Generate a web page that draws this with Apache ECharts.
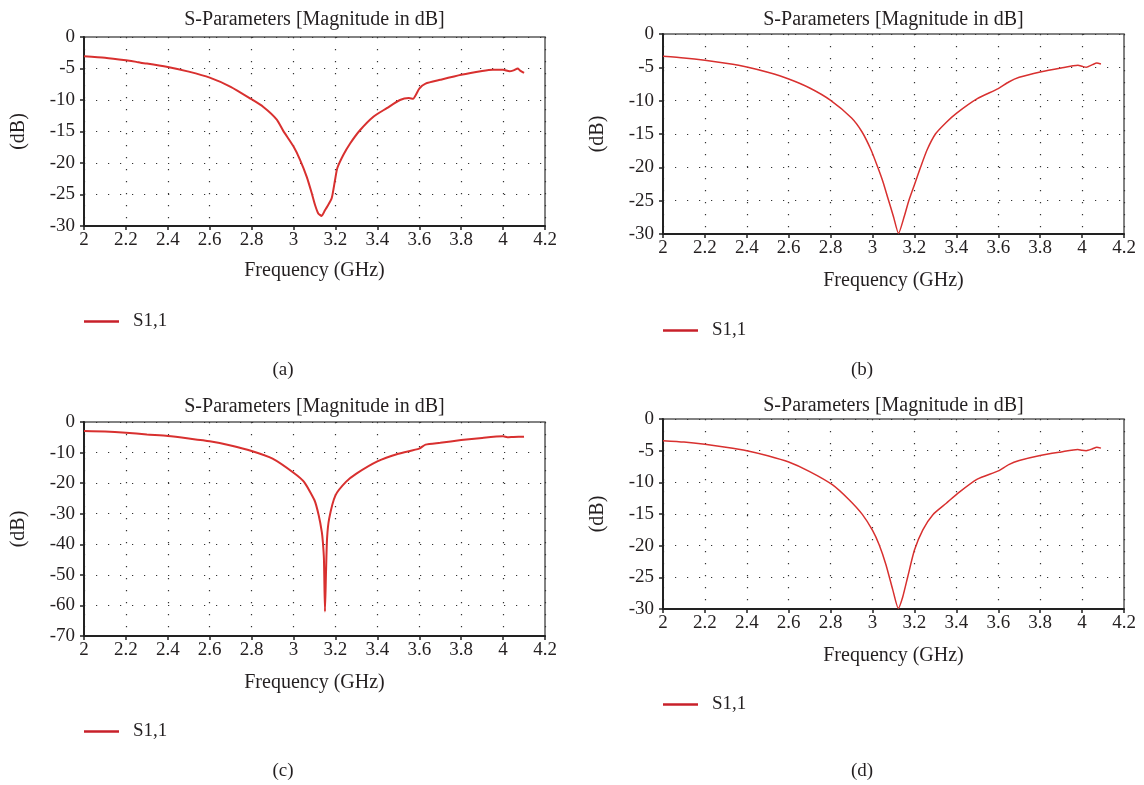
<!DOCTYPE html>
<html>
<head>
<meta charset="utf-8">
<title>S-Parameters</title>
<script src="https://cdn.jsdelivr.net/npm/echarts@6/dist/echarts.min.js"></script>
<style>
  html, body { margin: 0; padding: 0; background: #fff; }
  #chart { width: 1144px; height: 785px; }
</style>
</head>
<body>
<div id="chart"></div>
<script>
// x tick values shared by every panel (GHz)
const freqTicks = [2, 2.2, 2.4, 2.6, 2.8, 3, 3.2, 3.4, 3.6, 3.8, 4, 4.2];

// (a)
const freqA = [2.0, 2.1, 2.2, 2.25, 2.27, 2.3, 2.4, 2.5, 2.6, 2.7, 2.792, 2.856, 2.92, 2.951, 3.0, 3.031, 3.063, 3.087, 3.103, 3.118, 3.134, 3.15, 3.161, 3.182, 3.198, 3.209, 3.238, 3.27, 3.317, 3.381, 3.445, 3.508, 3.55, 3.57, 3.6, 3.63, 3.7, 3.8, 3.9, 3.95, 4.0, 4.03, 4.05, 4.07, 4.08, 4.1];
const dbA   = [-3.06, -3.3, -3.7, -3.95, -4.1, -4.2, -4.75, -5.5, -6.45, -7.9, -9.73, -11.1, -13.1, -14.9, -17.4, -19.5, -22.2, -24.8, -26.7, -28.0, -28.4, -27.5, -26.9, -25.6, -22.7, -20.8, -18.7, -16.9, -14.8, -12.65, -11.3, -10.0, -9.7, -9.8, -8.2, -7.4, -6.8, -6.0, -5.4, -5.2, -5.2, -5.45, -5.3, -5.0, -5.3, -5.7];

// (b)
const freqB = [2.0, 2.1, 2.2, 2.3, 2.4, 2.5, 2.6, 2.7, 2.8, 2.9, 2.95, 2.993, 3.025, 3.05, 3.073, 3.1, 3.124, 3.15, 3.173, 3.2, 3.229, 3.26, 3.3, 3.35, 3.4, 3.5, 3.6, 3.65, 3.7, 3.8, 3.9, 3.98, 4.0, 4.02, 4.05, 4.07, 4.09];
const dbB   = [-3.35, -3.6, -3.95, -4.4, -4.95, -5.75, -6.75, -8.1, -9.95, -12.6, -14.7, -17.4, -20.0, -22.2, -24.6, -27.4, -29.9, -27.5, -25.0, -22.6, -20.0, -17.4, -15.0, -13.3, -11.9, -9.7, -8.2, -7.2, -6.5, -5.7, -5.1, -4.7, -4.85, -5.0, -4.6, -4.35, -4.5];

// (c)
const freqC = [2.0, 2.1, 2.2, 2.3, 2.4, 2.5, 2.6, 2.7, 2.8, 2.9, 3.0, 3.05, 3.1, 3.12, 3.135, 3.14, 3.145, 3.15, 3.155, 3.16, 3.17, 3.2, 3.25, 3.3, 3.4, 3.5, 3.6, 3.63, 3.7, 3.8, 3.9, 4.0, 4.02, 4.05, 4.1];
const dbC   = [-2.95, -3.1, -3.5, -4.1, -4.6, -5.4, -6.3, -7.7, -9.5, -12.0, -16.6, -19.6, -25.6, -30.5, -36.0, -39.3, -44.7, -62.0, -49.0, -38.0, -31.6, -24.0, -19.6, -16.9, -12.9, -10.4, -8.7, -7.4, -6.8, -5.9, -5.2, -4.7, -5.0, -4.9, -4.8];

// (d)
const freqD = [2.0, 2.1, 2.2, 2.3, 2.4, 2.5, 2.6, 2.7, 2.808, 2.888, 2.952, 3.0, 3.032, 3.064, 3.096, 3.123, 3.144, 3.168, 3.2, 3.24, 3.288, 3.352, 3.408, 3.5, 3.6, 3.65, 3.7, 3.8, 3.9, 3.98, 4.0, 4.02, 4.05, 4.07, 4.09];
const dbD   = [-3.43, -3.65, -4.0, -4.45, -5.0, -5.8, -6.8, -8.3, -10.37, -12.75, -15.1, -17.6, -19.9, -23.0, -26.9, -29.9, -28.1, -24.9, -20.7, -17.5, -15.1, -13.3, -11.7, -9.5, -8.2, -7.2, -6.55, -5.75, -5.2, -4.8, -4.95, -5.0, -4.7, -4.45, -4.6];

const yMinList = [-30, -30, -70, -30];
const yStepList = [5, 5, 10, 5];
const captions = ['(a)', '(b)', '(c)', '(d)'];
const seriesName = 'S1,1';
const chartTitle = 'S-Parameters [Magnitude in dB]';

const serif = '"Liberation Serif", "DejaVu Serif", serif';
const ink = '#231f20';
const red = '#d8302f';

// layout of the four panels (pixels)
const panels = [
  {left: 84,  top: 37,  h: 189, titleY: 20,  legendY: 323, capX: 283, capY: 370, nameGap: 35, lw: 2},
  {left: 663, top: 34,  h: 200, titleY: 20,  legendY: 332, capX: 862, capY: 370, nameGap: 37, lw: 1.5},
  {left: 84,  top: 422, h: 214, titleY: 407, legendY: 733, capX: 283, capY: 771, nameGap: 37, lw: 2},
  {left: 663, top: 419, h: 190, titleY: 406, legendY: 706, capX: 862, capY: 771, nameGap: 37, lw: 1.5}
];
const gridW = 461;

const freqs = [freqA, freqB, freqC, freqD];
const dbs = [dbA, dbB, dbC, dbD];

let grid = [], xAxis = [], yAxis = [], series = [], legend = [], graphic = [];

panels.forEach((p, i) => {
  grid.push({
    left: p.left, top: p.top, width: gridW, height: p.h,
    show: true, borderColor: '#5a5a5a', borderWidth: 1.5, backgroundColor: '#fff'
  });

  xAxis.push({
    type: 'value', gridIndex: i,
    min: freqTicks[0], max: freqTicks[freqTicks.length - 1], interval: 0.2,
    name: 'Frequency (GHz)', nameLocation: 'middle', nameGap: p.nameGap,
    nameTextStyle: {fontFamily: serif, fontSize: 20, color: ink},
    axisLine: {show: true, onZero: false, lineStyle: {color: '#222', width: 2}},
    axisTick: {show: true, length: 4, lineStyle: {color: '#222', width: 1.5}},
    axisLabel: {
      margin: 5, fontFamily: serif, fontSize: 19, color: ink,
      formatter: v => String(+v.toFixed(1))
    },
    splitLine: {show: true, lineStyle: {color: '#333', width: 1.2, type: [1.2, 10.8]}}
  });

  yAxis.push({
    type: 'value', gridIndex: i,
    min: yMinList[i], max: 0, interval: yStepList[i],
    name: '(dB)', nameLocation: 'middle', nameRotate: 90, nameGap: 55,
    nameTextStyle: {fontFamily: serif, fontSize: 20, color: ink},
    axisLine: {show: true, onZero: false, lineStyle: {color: '#222', width: 2}},
    axisTick: {show: true, length: 4, lineStyle: {color: '#222', width: 1.5}},
    axisLabel: {margin: 9, fontFamily: serif, fontSize: 19, color: ink},
    splitLine: {show: true, lineStyle: {color: '#333', width: 1.2, type: [1.2, 10.8]}}
  });

  series.push({
    name: seriesName, type: 'line',
    xAxisIndex: i, yAxisIndex: i,
    data: freqs[i].map((f, k) => [f, dbs[i][k]]),
    showSymbol: false, smooth: 0.2,
    lineStyle: {color: red, width: p.lw},
    itemStyle: {color: '#c8202a'},
    silent: true, animation: false
  });

  legend.push({
    data: [seriesName],
    left: p.left, top: p.legendY - 11, padding: 0,
    icon: 'rect', itemWidth: 35, itemHeight: 2.5,
    textStyle: {fontFamily: serif, fontSize: 19, color: ink, padding: [0, 0, 0, 9]},
    selectedMode: false
  });

  // panel title and caption
  graphic.push({
    type: 'text',
    x: p.left + gridW / 2, y: p.titleY,
    style: {text: chartTitle, font: '20px ' + serif, fill: ink, textAlign: 'center', textVerticalAlign: 'middle'}
  });
  graphic.push({
    type: 'text',
    x: p.capX, y: p.capY,
    style: {text: captions[i], font: '19px ' + serif, fill: ink, textAlign: 'center', textVerticalAlign: 'middle'}
  });
});

let myChart = echarts.init(document.getElementById('chart'));
myChart.setOption({
  animation: false,
  backgroundColor: '#fff',
  grid: grid,
  xAxis: xAxis,
  yAxis: yAxis,
  legend: legend,
  series: series,
  graphic: graphic
});
</script>
</body>
</html>
